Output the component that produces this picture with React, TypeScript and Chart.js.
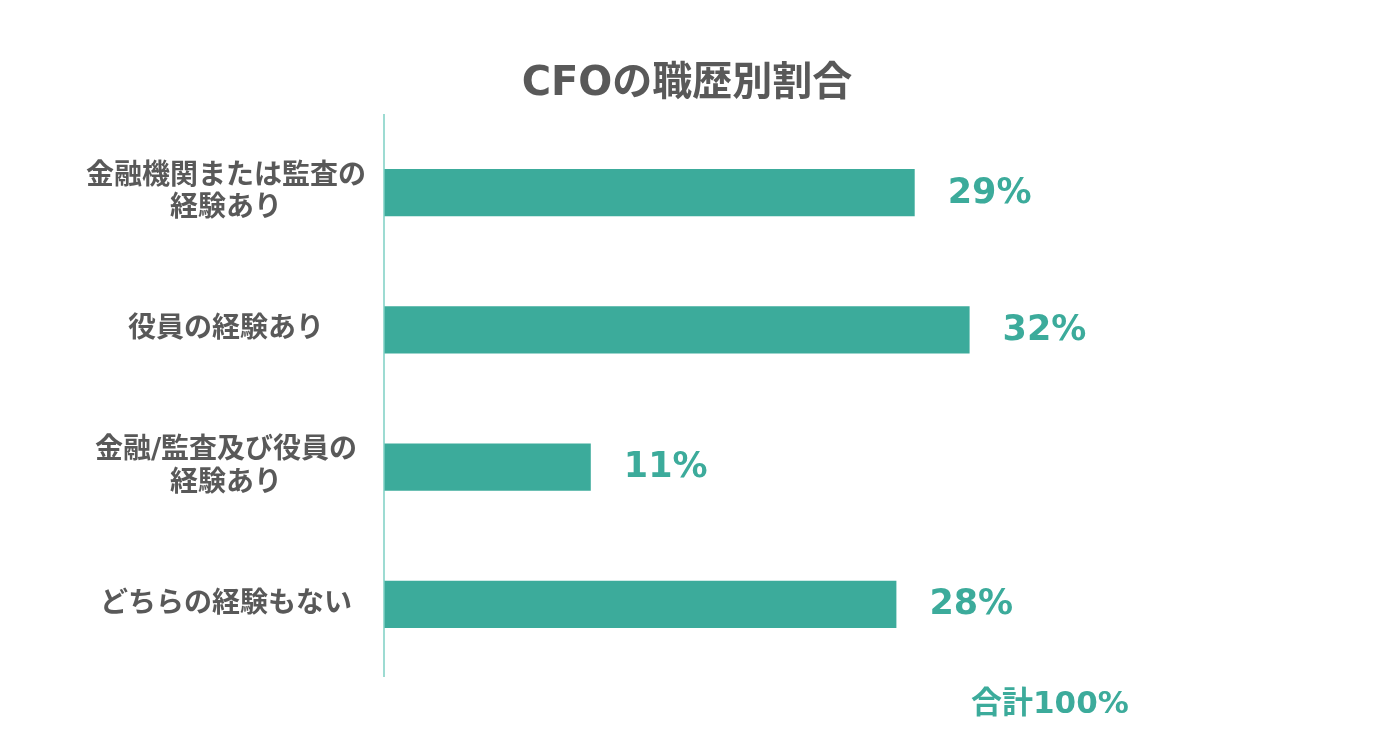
import React, { useEffect, useRef } from "react";
import { Chart, registerables } from "chart.js";

Chart.register(...registerables);

const title = "CFOの職歴別割合";
const categories: (string | string[])[] = [
  ["金融機関または監査の", "経験あり"],
  "役員の経験あり",
  ["金融/監査及び役員の", "経験あり"],
  "どちらの経験もない",
];
const values = [29, 32, 11.3, 28];
const totalLabel = "合計100%";

const BAR = "#3cab9b";
const GREY = "#595959";
const AXIS = "#7ccfc3";
const FONT = "'DejaVu Sans', 'Noto Sans CJK JP', sans-serif";

const overlay = {
  id: "overlay",
  afterDatasetsDraw(chart: any) {
    const ctx = chart.ctx;
    const area = chart.chartArea;
    ctx.save();
    // axis line
    ctx.strokeStyle = AXIS;
    ctx.lineWidth = 1.5;
    ctx.beginPath();
    ctx.moveTo(area.left, area.top - 10);
    ctx.lineTo(area.left, area.bottom + 4);
    ctx.stroke();
    // value labels
    const meta = chart.getDatasetMeta(0);
    ctx.fillStyle = BAR;
    ctx.font = `bold 35px ${FONT}`;
    ctx.textAlign = "left";
    ctx.textBaseline = "middle";
    meta.data.forEach((el: any, i: number) => {
      ctx.fillText(Math.round(values[i]) + "%", el.x + 33, el.y + 1);
    });
    // title
    ctx.fillStyle = GREY;
    ctx.font = `bold 40px ${FONT}`;
    ctx.textAlign = "center";
    ctx.fillText(title, 679, 77);
    // total
    ctx.fillStyle = BAR;
    ctx.font = `bold 31px ${FONT}`;
    ctx.textAlign = "left";
    ctx.fillText(totalLabel, 963, 697);
    ctx.restore();
  },
};

export default function App() {
  const ref = useRef<HTMLCanvasElement>(null);
  useEffect(() => {
    if (!ref.current) return;
    const chart = new Chart(ref.current, {
      type: "bar",
      data: {
        labels: categories,
        datasets: [
          {
            data: values,
            backgroundColor: BAR,
            borderWidth: 0,
            barPercentage: 0.345,
            categoryPercentage: 1,
          },
        ],
      },
      options: {
        indexAxis: "y",
        animation: false,
        responsive: true,
        maintainAspectRatio: false,
        layout: { padding: { top: 116, bottom: 68, right: 276, left: 0 } },
        plugins: {
          legend: { display: false },
          tooltip: { enabled: false },
          title: { display: false },
        },
        scales: {
          x: { display: false, min: 0, max: 40 },
          y: {
            afterFit(scale: any) {
              scale.width = 376;
            },
            grid: { display: false, drawTicks: false },
            border: { display: false },
            ticks: {
              crossAlign: "center",
              padding: 18,
              color: GREY,
              font: { family: FONT, size: 28, weight: "bold", lineHeight: 1.15 },
            },
          },
        },
      },
      plugins: [overlay],
    });
    return () => chart.destroy();
  }, []);
  return (
    <div style={{ width: 1384, height: 733, position: "relative" }}>
      <canvas ref={ref} />
    </div>
  );
}
